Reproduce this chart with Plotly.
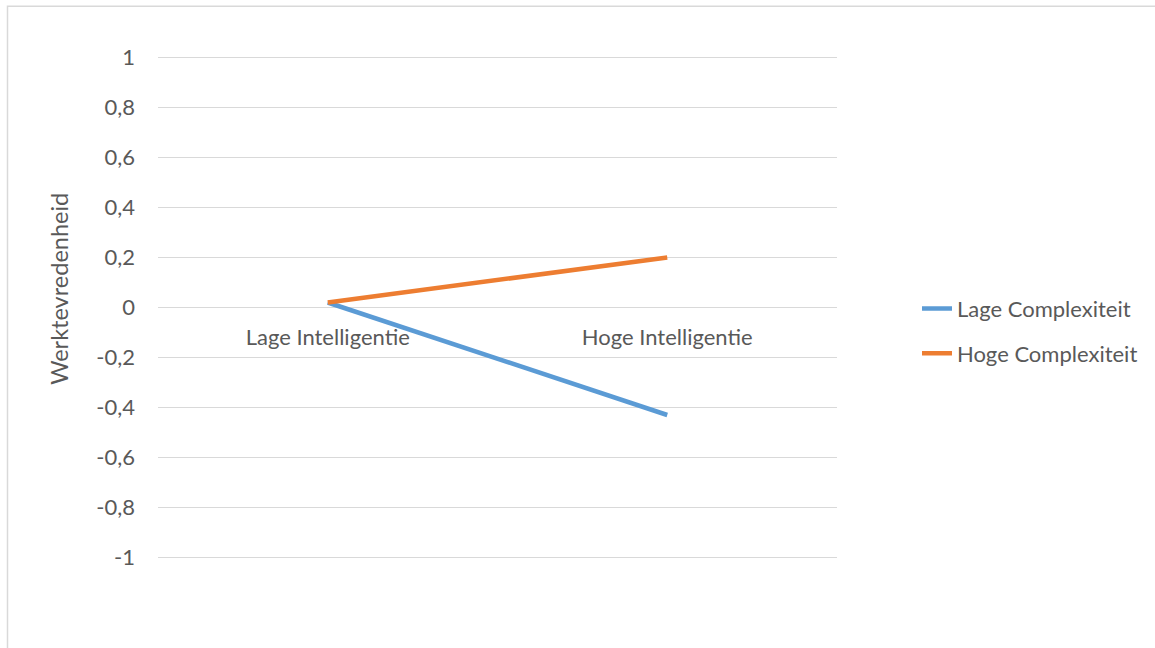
import plotly.graph_objects as go

# Data
categories = ["Lage Intelligentie", "Hoge Intelligentie"]
lage_complexiteit = [0.02, -0.43]
hoge_complexiteit = [0.02, 0.20]
y_tickvals = [1, 0.8, 0.6, 0.4, 0.2, 0, -0.2, -0.4, -0.6, -0.8, -1]
y_ticktext = ["1", "0,8", "0,6", "0,4", "0,2", "0", "-0,2", "-0,4", "-0,6", "-0,8", "-1"]
y_title = "Werktevredenheid"

W, H = 1155, 648
L, R = 158, 837          # plot area left/right in px
YMAX, YMIN = 1.006, -1.006
PX_PER_UNIT = 250.0
Y0 = 307.7               # pixel row of y=0
T = Y0 - YMAX * PX_PER_UNIT
B = Y0 - YMIN * PX_PER_UNIT

FONT = "Lato"
FS = 22
TXT = "#595959"
GRID = "#D9D9D9"

def px_x(p):
    return (p - L) / (R - L)

def px_y(p):
    return (B - p) / (B - T)

fig = go.Figure()
fig.add_trace(go.Scatter(
    x=categories, y=lage_complexiteit, mode="lines", name="Lage Complexiteit",
    line=dict(color="#5B9BD5", width=4.5), legendgroup="a"))
fig.add_trace(go.Scatter(
    x=categories, y=hoge_complexiteit, mode="lines", name="Hoge Complexiteit",
    line=dict(color="#ED7D31", width=4.5), legendgroup="b"))

fig.update_layout(
    width=W, height=H,
    margin=dict(l=L, r=W - R, t=T, b=H - B),
    plot_bgcolor="white", paper_bgcolor="white",
    font=dict(family=FONT, size=FS, color=TXT),
    showlegend=True,
    legend=dict(x=px_x(917), y=px_y(288), xanchor="left", yanchor="top",
                font=dict(size=FS, color=TXT), tracegroupgap=13,
                traceorder="grouped", itemwidth=30, bgcolor="rgba(0,0,0,0)"),
    xaxis=dict(type="category", range=[-0.5, 1.5], anchor="free", position=px_y(Y0),
               showgrid=False, showline=False, zeroline=False, ticks="",
               ticklabelstandoff=14, tickfont=dict(size=FS, color=TXT)),
    yaxis=dict(range=[YMIN, YMAX], tickvals=y_tickvals, ticktext=y_ticktext,
               showgrid=True, gridcolor=GRID, gridwidth=1.3,
               zeroline=True, zerolinecolor=GRID, zerolinewidth=1.3,
               showline=False, ticks="", ticklabelstandoff=22,
               tickfont=dict(size=FS, color=TXT)),
    annotations=[dict(text=y_title, textangle=-90, xref="paper", yref="paper",
                      x=px_x(59), y=px_y(289), xanchor="center", yanchor="middle",
                      showarrow=False, font=dict(size=23.5, color=TXT))],
    shapes=[dict(type="rect", xref="paper", yref="paper",
                 x0=px_x(7.5), x1=px_x(1160), y0=px_y(660), y1=px_y(6.5),
                 line=dict(color=GRID, width=1.5), layer="below")],
)

fig.write_html("out.html")
